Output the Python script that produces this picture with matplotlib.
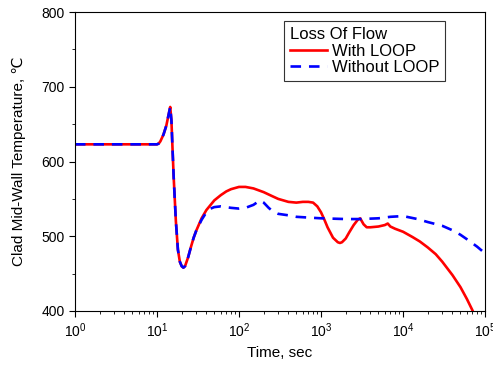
import matplotlib
matplotlib.use("Agg")
import matplotlib.pyplot as plt
from matplotlib.ticker import LogLocator, MultipleLocator

plt.rcParams['font.family'] = ['Liberation Sans', 'DejaVu Sans']
plt.rcParams['mathtext.default'] = 'regular'

t_loop = [1, 10, 10.5, 11, 12, 13, 14, 14.5, 15, 15.5, 16, 17, 18, 19, 20, 21, 22, 24, 26, 28,
          30, 35, 40, 50, 60, 70, 80, 100, 120, 150, 200, 250, 300, 400, 500, 600, 700, 800,
          900, 1000, 1100, 1200, 1400, 1600, 1700, 1800, 2000, 2200, 2500, 2800, 3000, 3300,
          3600, 4000, 5000, 6000, 6500, 7000, 8000, 10000, 13000, 16000, 20000, 25000, 30000,
          40000, 50000, 60000, 70000, 75000]
T_loop = [623, 623, 624, 627, 636, 648, 665, 673, 655, 615, 578, 520, 482, 466, 460, 458, 460,
          472, 486, 498, 507, 524, 535, 548, 555, 560, 563, 566, 566, 564, 559, 554, 550, 546,
          545, 546, 546, 545, 540, 532, 522, 512, 498, 492, 491, 492, 497, 505, 515, 522, 524,
          516, 512, 512, 513, 515, 517, 513, 510, 506, 499, 493, 485, 476, 466, 448, 432, 416,
          401, 393]

t_noloop = [1, 10, 10.5, 11, 12, 13, 14, 14.5, 15, 15.5, 16, 17, 18, 19, 20, 21, 22, 24, 26, 28,
            30, 35, 40, 45, 50, 60, 80, 100, 120, 150, 180, 200, 230, 260, 300, 400, 500, 700,
            1000, 2000, 3000, 5000, 7000, 10000, 15000, 20000, 30000, 40000, 50000, 60000,
            80000, 100000]
T_noloop = [623, 623, 624, 627, 636, 648, 665, 673, 655, 615, 578, 520, 482, 466, 460, 458, 460,
            472, 486, 498, 507, 522, 532, 537, 539, 540, 538, 537, 538, 542, 548, 545, 538, 533,
            530, 528, 526, 525, 524, 523, 523, 524, 526, 527, 523, 519, 514, 508, 502, 496, 486,
            477]

fig = plt.figure(figsize=(4.93, 3.65), dpi=100)
ax = fig.add_axes([0.152, 0.148, 0.832, 0.819])

ax.plot(t_loop, T_loop, color='#ff0000', lw=1.9, label='With LOOP')
ax.plot(t_noloop, T_noloop, color='#0000ff', lw=1.9, dashes=(4, 3), label='Without LOOP')

ax.set_xscale('log')
ax.set_xlim(1, 1e5)
ax.set_ylim(400, 800)
ax.yaxis.set_major_locator(MultipleLocator(100))
ax.yaxis.set_minor_locator(MultipleLocator(50))
ax.xaxis.set_major_locator(LogLocator(base=10, numticks=10))
ax.xaxis.set_minor_locator(LogLocator(base=10, subs=range(2, 10), numticks=20))
ax.tick_params(axis='both', which='major', labelsize=10, length=4, width=0.8, direction='out')
ax.tick_params(axis='both', which='minor', length=2, width=0.6, direction='out')

ax.set_xlabel('Time, sec', fontsize=11, labelpad=4)
ax.set_ylabel('Clad Mid-Wall Temperature, \u2103', fontsize=11, labelpad=11)

leg = ax.legend(title='Loss Of Flow', loc='upper left', bbox_to_anchor=(0.51, 0.97),
                borderaxespad=0, fontsize=12, title_fontsize=12, fancybox=False,
                edgecolor='#333333', framealpha=1, handlelength=2.2, handletextpad=0.3,
                borderpad=0.35, labelspacing=0.1, alignment='left')
leg.get_frame().set_linewidth(0.8)

fig.savefig('out.png', dpi=100)
